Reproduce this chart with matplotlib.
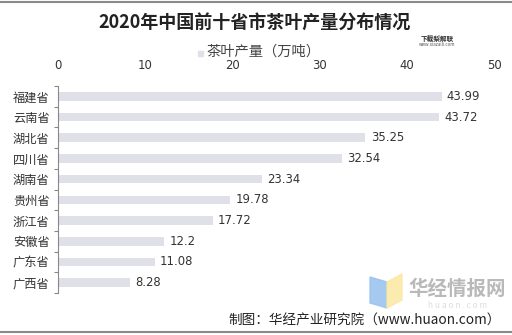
import matplotlib
matplotlib.use("Agg")
import matplotlib.pyplot as plt
from matplotlib.patches import Rectangle, Polygon
from matplotlib.lines import Line2D

plt.rcParams['font.family'] = ['Noto Sans CJK SC', 'DejaVu Sans']

provinces = ["福建省", "云南省", "湖北省", "四川省", "湖南省",
             "贵州省", "浙江省", "安徽省", "广东省", "广西省"]
output = [43.99, 43.72, 35.25, 32.54, 23.34, 19.78, 17.72, 12.2, 11.08, 8.28]
x_ticks = [0, 10, 20, 30, 40, 50]

title = "2020年中国前十省市茶叶产量分布情况"
series_name = "茶叶产量（万吨）"
source = "制图：华经产业研究院（www.huaon.com）"

W, H = 512, 335
fig = plt.figure(figsize=(W / 100, H / 100), dpi=100)
fig.patch.set_facecolor("white")

bar_color = "#dfe0e8"
text_color = "#333333"

# plot area in pixel coordinates
left, right, top, bottom = 58, 494, 86, 293
ax = fig.add_axes([left / W, 1 - bottom / H, (right - left) / W, (bottom - top) / H])

n = len(provinces)
ypos = list(range(n))
ax.barh(ypos, output, height=0.42, color=bar_color, zorder=2)
ax.set_ylim(n - 0.5, -0.5)
ax.set_xlim(0, 50)

for y, v in zip(ypos, output):
    ax.text(v + 0.6, y, f"{v:g}", va="center", ha="left", fontsize=8.4,
            color=text_color, family="DejaVu Sans")

ax.xaxis.tick_top()
ax.set_xticks(x_ticks)
ax.set_xticklabels([str(t) for t in x_ticks], fontsize=8.4, color=text_color,
                   family="DejaVu Sans")
ax.tick_params(axis="x", length=0, pad=10)

ax.set_yticks(ypos)
ax.set_yticklabels(provinces, fontsize=8.8, color=text_color)
ax.set_yticks([i - 0.5 for i in range(n + 1)], minor=True)
ax.tick_params(axis="y", which="major", length=0, pad=6)
ax.tick_params(axis="y", which="minor", length=3, color="#888888", width=0.8)

for s in ["top", "right", "bottom"]:
    ax.spines[s].set_visible(False)
ax.spines["left"].set_color("#888888")
ax.spines["left"].set_linewidth(0.8)

# title and legend
fig.text(255 / W, 1 - 22 / H, title, ha="center", va="center",
         fontsize=13, fontweight="bold", color="#222222")
fig.patches.append(Rectangle((198 / W, 1 - 56 / H), 5 / W, 5 / H,
                             transform=fig.transFigure, color=bar_color))
fig.text(206 / W, 1 - 52 / H, series_name, ha="left", va="center",
         fontsize=10.3, color="#444444")

# small brand mark at top right
fig.text(437 / W, 1 - 38 / H, "下载梨解联", ha="center", va="center",
         fontsize=4.8, color="#333333", fontweight="bold")
fig.text(437 / W, 1 - 44 / H, "www.xiazaili.com", ha="center", va="center",
         fontsize=3.2, color="#555555")

# huaon logo
fig.patches.append(Polygon([(370 / W, 1 - 277 / H), (387 / W, 1 - 282 / H),
                            (387 / W, 1 - 308 / H), (370 / W, 1 - 303 / H)],
                           closed=True, transform=fig.transFigure,
                           color="#9cc3ee", alpha=0.9))
fig.patches.append(Polygon([(387 / W, 1 - 282 / H), (402 / W, 1 - 274 / H),
                            (402 / W, 1 - 300 / H), (387 / W, 1 - 308 / H)],
                           closed=True, transform=fig.transFigure,
                           color="#fbe9a6", alpha=0.9))
fig.text(457 / W, 1 - 289 / H, "华经情报网", ha="center", va="center",
         fontsize=14, color="#b9b9b9", fontweight="bold")
fig.text(458 / W, 1 - 305 / H, "h u a o n . c o m", ha="center", va="center",
         fontsize=6, color="#dddddd")

# source line
fig.text(501 / W, 1 - 321 / H, source, ha="right", va="center",
         fontsize=9.8, color="#222222")

# frame lines
fig.add_artist(Line2D([0, 1], [1 - 2 / H, 1 - 2 / H], transform=fig.transFigure,
                      color="#8a8a8a", linewidth=1.5))
fig.add_artist(Line2D([0, 1], [1 - 332 / H, 1 - 332 / H], transform=fig.transFigure,
                      color="#8a8a8a", linewidth=1.5))

fig.savefig("out.png", dpi=100, facecolor="white")
